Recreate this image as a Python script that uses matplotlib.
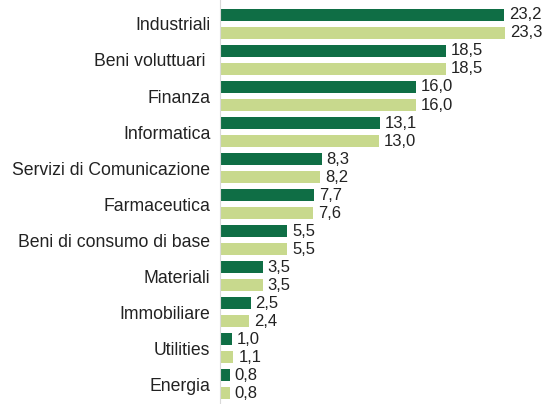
import matplotlib
matplotlib.use("Agg")
import matplotlib.pyplot as plt
import numpy as np

categories = ["Industriali", "Beni voluttuari ", "Finanza", "Informatica",
              "Servizi di Comunicazione", "Farmaceutica", "Beni di consumo di base",
              "Materiali", "Immobiliare", "Utilities", "Energia"]
series_a = [23.2, 18.5, 16.0, 13.1, 8.3, 7.7, 5.5, 3.5, 2.5, 1.0, 0.8]
series_b = [23.3, 18.5, 16.0, 13.0, 8.2, 7.6, 5.5, 3.5, 2.4, 1.1, 0.8]

dark = "#0f6e45"
light = "#c8d98d"

plt.rcParams['font.family'] = ['Liberation Sans', 'DejaVu Sans']

fig = plt.figure(figsize=(5.46, 4.04), dpi=100)
left = 220 / 546
ax = fig.add_axes([left, 0, 1 - left, 1])

n = len(categories)
pos_a = np.arange(n) * 2
pos_b = pos_a + 1
h = 0.64
ax.barh(pos_a, series_a, height=h, color=dark)
ax.barh(pos_b, series_b, height=h, color=light)

px_per_unit = (505 - 220) / 23.3
ax.set_xlim(0, (546 - 220) / px_per_unit)
ax.set_ylim(21.61, -0.833)

for pos, vals in ((pos_a, series_a), (pos_b, series_b)):
    for p, v in zip(pos, vals):
        ax.annotate(f"{v:.1f}".replace(".", ","), (v, p), xytext=(3.5, 0),
                    textcoords="offset points", va="center", ha="left",
                    fontsize=12, color="#222222")

ax.set_yticks(pos_a + 0.5)
ax.set_yticklabels(categories, fontsize=12.7, color="#222222")
ax.tick_params(axis="y", length=0, pad=7)
ax.set_xticks([])
for s in ["top", "right", "bottom"]:
    ax.spines[s].set_visible(False)
ax.spines["left"].set_color("#d9d9d9")
ax.spines["left"].set_linewidth(0.8)

fig.savefig("out.png", dpi=100)
